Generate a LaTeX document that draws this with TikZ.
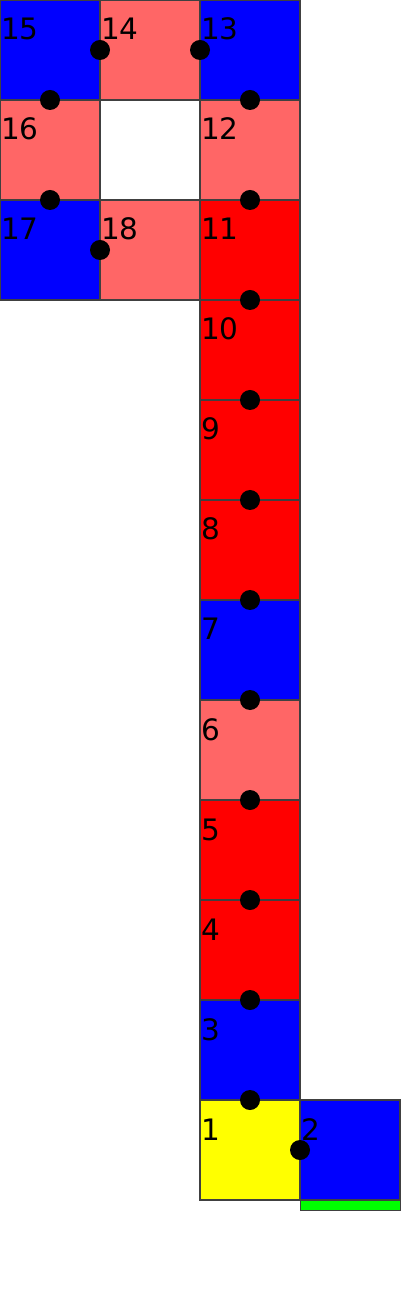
\documentclass[tikz,border=0pt]{standalone}
\usepackage{fontspec}
\setmainfont{DejaVu Sans}
\usetikzlibrary{calc}
\definecolor{pinkc}{HTML}{FF6666}
\definecolor{redc}{HTML}{FF0000}
\definecolor{bluec}{HTML}{0000FF}
\definecolor{yellowc}{HTML}{FFFF00}
\definecolor{greenc}{HTML}{00FF00}
\tikzset{
  cell/.style={draw=black!75, line width=0.3pt, minimum width=1cm, minimum height=1cm, inner sep=0pt, outer sep=0pt, anchor=north west},
  num/.style={anchor=base west, inner sep=0pt, font=\fontsize{8.4}{9}\selectfont},
  dot/.style={circle, fill=black, minimum size=0.2cm, inner sep=0pt}
}
\begin{document}
\begin{tikzpicture}[x=1cm,y=-1cm]
\useasboundingbox (0,0) rectangle (4,13);
\foreach \n/\c/\col/\row in {
  15/bluec/0/0, 14/pinkc/1/0, 13/bluec/2/0,
  16/pinkc/0/1, 12/pinkc/2/1,
  17/bluec/0/2, 18/pinkc/1/2, 11/redc/2/2,
  10/redc/2/3, 9/redc/2/4, 8/redc/2/5, 7/bluec/2/6, 6/pinkc/2/7,
  5/redc/2/8, 4/redc/2/9, 3/bluec/2/10, 1/yellowc/2/11, 2/bluec/3/11}{
  \node[cell, fill=\c] (c\n) at (\col,\row) {};
  \node[num] (t\n) at ($(c\n.north west)+(0.005,0.40)$) {\n};
}
\node[draw=black!75, line width=0.3pt, fill=greenc, minimum width=1cm, minimum height=0.1cm, inner sep=0pt, anchor=north west] (bar) at (c2.south west) {};
\node[dot] (d12) at (c1.east |- 0,11.5) {};
\node[dot] (d13) at (c1.north) {};
\node[dot] (d34) at (c3.north) {};
\node[dot] (d45) at (c4.north) {};
\node[dot] (d56) at (c5.north) {};
\node[dot] (d67) at (c6.north) {};
\node[dot] (d78) at (c7.north) {};
\node[dot] (d89) at (c8.north) {};
\node[dot] (d910) at (c9.north) {};
\node[dot] (d1011) at (c10.north) {};
\node[dot] (d1112) at (c11.north) {};
\node[dot] (d1213) at (c12.north) {};
\node[dot] (d1314) at (c13.west) {};
\node[dot] (d1415) at (c14.west) {};
\node[dot] (d1516) at (c15.south) {};
\node[dot] (d1617) at (c16.south) {};
\node[dot] (d1718) at (c18.west) {};
\end{tikzpicture}
\end{document}
